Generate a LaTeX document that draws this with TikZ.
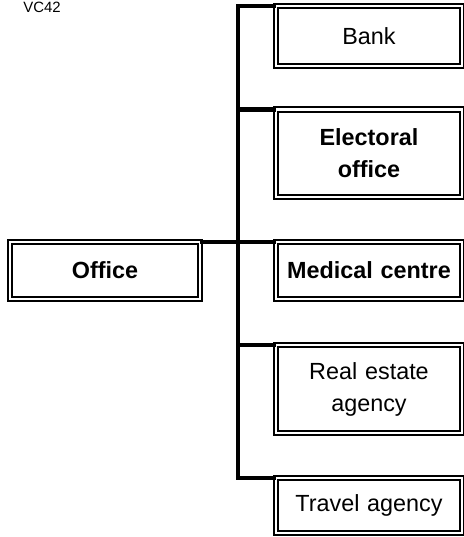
\documentclass[tikz,border=0pt]{standalone}
\usepackage{fontspec}
\setmainfont{Liberation Sans}

\tikzset{
  place/.style={draw, double, line width=1.14pt, double distance=1.14pt,
    outer sep=0pt, inner sep=0pt, align=center, text width=3.6cm,
    minimum width=3.72cm, font=\fontsize{13.3}{18.2}\selectfont},
  link/.style={line width=2.28pt, line join=miter}
}

\begin{document}
\begin{tikzpicture}
  \useasboundingbox (0,0) rectangle (9.28,-10.74);

  % Draw the label
  \node[font=\fontsize{8.5}{10}\selectfont] (tag) at (0.84,-0.15) {VC42};

  % Draw the boxes
  \node[place, minimum height=1.20cm] (Bank) at (7.38,-0.72) {Bank};
  \node[place, minimum height=1.75cm] (Elect) at (7.38,-3.065) {\textbf{Electoral}\\\textbf{office}};
  \node[place, minimum height=1.14cm] (Medical) at (7.38,-5.41) {\textbf{Medical centre}};
  \node[place, minimum height=1.14cm, minimum width=3.8cm] (Office) at (2.1,-5.41) {\textbf{Office}};
  \node[place, minimum height=1.76cm] (Real) at (7.38,-7.78) {Real estate\\agency};
  \node[place, minimum height=1.10cm] (Travel) at (7.38,-10.11) {Travel agency};

  % Draw the tree lines
  \coordinate (spine) at (4.76,0);
  \draw[link] (Bank.north west) -- (Bank.north west -| spine) -- (Travel.north west -| spine) -- (Travel.north west);
  \foreach \n in {Elect,Medical,Real}
    \draw[link] (\n.north west -| spine) -- (\n.north west);
  \draw[link] (Office.north east) -- (Office.north east -| spine);
\end{tikzpicture}
\end{document}
